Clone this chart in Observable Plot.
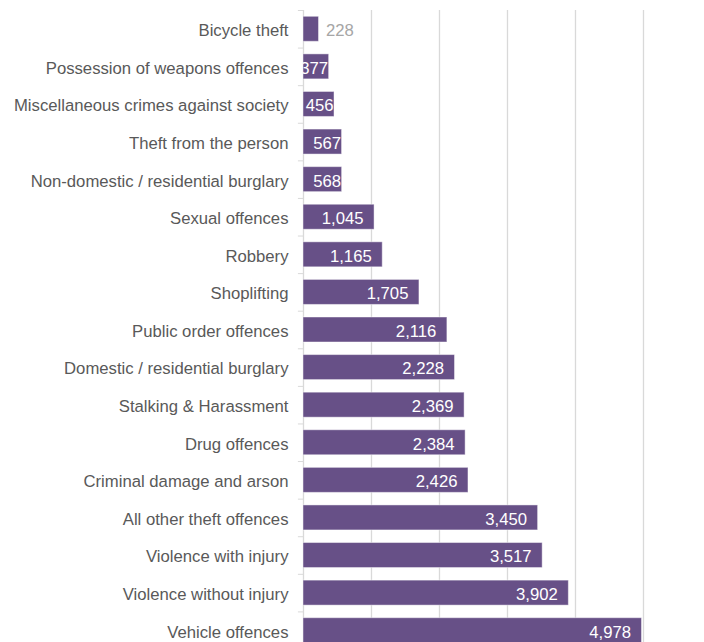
<!DOCTYPE html>
<html>
<head>
<meta charset="utf-8">
<script src="https://cdn.jsdelivr.net/npm/d3@7"></script>
<script src="https://cdn.jsdelivr.net/npm/@observablehq/plot@0.6"></script>
<style>
  html, body { margin: 0; padding: 0; background: #fff; }
  #wrap { width: 704px; height: 642px; overflow: hidden; }
</style>
</head>
<body>
<div id="wrap"></div>
<script>
const categories = [
  "Bicycle theft",
  "Possession of weapons offences",
  "Miscellaneous crimes against society",
  "Theft from the person",
  "Non-domestic / residential burglary",
  "Sexual offences",
  "Robbery",
  "Shoplifting",
  "Public order offences",
  "Domestic / residential burglary",
  "Stalking & Harassment",
  "Drug offences",
  "Criminal damage and arson",
  "All other theft offences",
  "Violence with injury",
  "Violence without injury",
  "Vehicle offences"
];
const values = [228, 377, 456, 567, 568, 1045, 1165, 1705, 2116, 2228, 2369, 2384, 2426, 3450, 3517, 3902, 4978];
const gridTicks = [1000, 2000, 3000, 4000, 5000];

const data = categories.map((c, i) => ({category: c, value: values[i]}));
const fmt = d3.format(",");

const chart = Plot.plot({
  width: 704,
  height: 650,
  marginLeft: 303,
  marginRight: 61,
  marginTop: 10,
  marginBottom: 1,
  style: {fontFamily: "'Liberation Sans', Arial, sans-serif", background: "#fff"},
  x: {domain: [0, 5000], axis: null},
  y: {domain: categories, paddingInner: 0.335, paddingOuter: 0.1675, round: false, label: null},
  marks: [
    Plot.ruleX(gridTicks, {stroke: "#d9d9d9", strokeWidth: 1.3}),
    Plot.ruleX([0], {stroke: "#d9d9d9", strokeWidth: 1.3}),
    Plot.ruleY(categories, {y: d => d, x1: -75, x2: 0, stroke: "#d9d9d9", strokeWidth: 1, dy: -18.8}),
    Plot.barX(data, {y: "category", x: "value", fill: "#675087", stroke: "#ffffff", strokeOpacity: 0.45, strokeWidth: 1}),
    Plot.axisY({tickSize: 0, tickPadding: 15, fontSize: 16.7, fill: "#595959", dy: 1.5}),
    Plot.text(data.filter(d => d.value >= 1000), {
      y: "category", x: "value", text: d => fmt(d.value),
      textAnchor: "end", dx: -11, dy: 1.5, fill: "#ffffff", fontSize: 16.7
    }),
    Plot.text(data.filter(d => d.value >= 300 && d.value < 1000), {
      y: "category", x: "value", text: d => fmt(d.value),
      textAnchor: "end", dx: -1, dy: 1.5, fill: "#ffffff", fontSize: 16.7, clip: true
    }),
    Plot.text(data.filter(d => d.value < 300), {
      y: "category", x: "value", text: d => fmt(d.value),
      textAnchor: "start", dx: 7, dy: 1.5, fill: "#a6a6a6", fontSize: 16.7
    })
  ]
});
document.getElementById("wrap").appendChild(chart);
</script>
</body>
</html>
